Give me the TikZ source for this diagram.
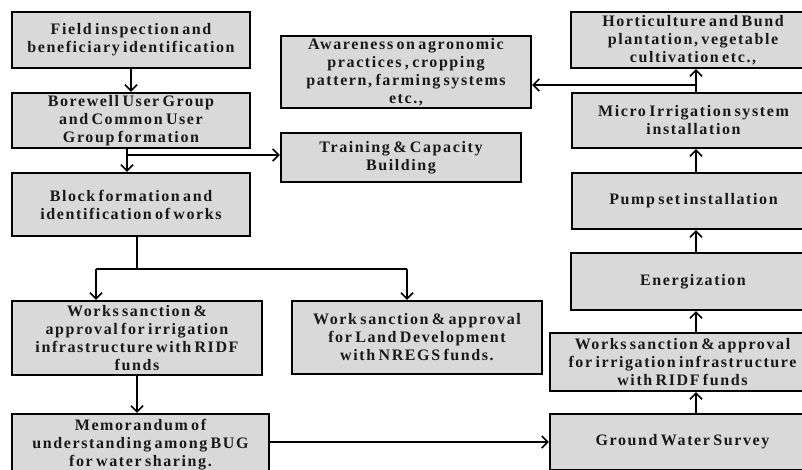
\documentclass[tikz,border=0pt]{standalone}
\usepackage{fontspec}
\setmainfont{Liberation Serif}[LetterSpace=10,WordSpace=0.6]
\usetikzlibrary{arrows.meta}
\definecolor{boxfill}{HTML}{D9D9D9}
\tikzset{
  box/.style={draw=black, fill=boxfill, line width=2.4pt, align=center,
    font=\fontsize{16pt}{18pt}\selectfont\bfseries, inner sep=0pt, text=black!90},
  arr/.style={line width=1.5pt, -{Straight Barb[length=6pt,width=12pt,line width=1.5pt]}},
  ln/.style={line width=1.5pt}
}
\begin{document}
\begin{tikzpicture}[x=1pt,y=-1pt]
\useasboundingbox (0,0) rectangle (802,469);
\begin{scope}
\clip (0,0) rectangle (802,469);
\node[box, minimum width=238, minimum height=56] (f1) at (131,40) {Field inspection and\\beneficiary identification};
\node[box, minimum width=238, minimum height=55] (bug) at (131,120.5) {Borewell User Group\\and Common User\\Group formation};
\node[box, minimum width=238, minimum height=63] (blk) at (131,204.5) {Block formation and\\identification of works};
\node[box, minimum width=250, minimum height=74] (wsl) at (137,338) {Works sanction \&\\approval for irrigation\\infrastructure with RIDF\\funds};
\node[box, minimum width=257, minimum height=62] (mou) at (140.5,445) {Memorandum of\\understanding among BUG\\for water sharing.};
\node[box, minimum width=240, minimum height=49] (trn) at (401,157.5) {Training \& Capacity\\Building};
\node[box, minimum width=250, minimum height=72] (awr) at (406,72) {Awareness on agronomic\\practices , cropping\\pattern, farming systems\\etc.,};
\node[box, minimum width=250, minimum height=73] (lnd) at (417,337.5) {Work sanction \& approval\\for Land Development\\with NREGS funds.};
\node[box, minimum width=244, minimum height=56] (hor) at (693,40) {Horticulture and Bund\\plantation, vegetable\\cultivation etc.,};
\node[box, minimum width=243, minimum height=55] (mic) at (693.5,120.5) {Micro Irrigation system\\installation};
\node[box, minimum width=243, minimum height=56] (pmp) at (693.5,201) {Pump set installation};
\node[box, minimum width=244, minimum height=57] (ene) at (693,281.5) {Energization};
\node[box, minimum width=265, minimum height=58] (wsr) at (682.5,362) {Works sanction \& approval\\for irrigation infrastructure\\with RIDF funds};
\node[box, minimum width=265, minimum height=56] (gws) at (682.5,442) {Ground Water Survey};
\end{scope}
% connectors
\coordinate (j1) at (127,155);
\coordinate (j2) at (137,269);
\coordinate (jl) at (96,269);
\coordinate (jr) at (407,269);
\coordinate (col) at (696,0);
\coordinate (j3) at (696,85);
\draw[arr] (f1.south) -- (bug.north);
\draw[arr] (bug.south -| j1) -- (blk.north -| j1);
\draw[arr] (j1) -- (j1 -| trn.west);
\draw[ln] (blk.south -| j2) -- (j2);
\draw[ln] (jl) -- (jr);
\draw[arr] (jl) -- (jl |- wsl.north);
\draw[arr] (jr) -- (jr |- lnd.north);
\draw[arr] (wsl.south) -- (wsl.south |- mou.north);
\draw[arr] (mou.east |- gws.west) -- (gws.west);
\draw[arr] (gws.north -| col) -- (wsr.south -| col);
\draw[arr] (wsr.north -| col) -- (ene.south -| col);
\draw[arr] (ene.north -| col) -- (pmp.south -| col);
\draw[arr] (pmp.north -| col) -- (mic.south -| col);
\draw[arr] (mic.north -| col) -- (hor.south -| col);
\draw[arr] (j3) -- (j3 -| awr.east);
\end{tikzpicture}
\end{document}
